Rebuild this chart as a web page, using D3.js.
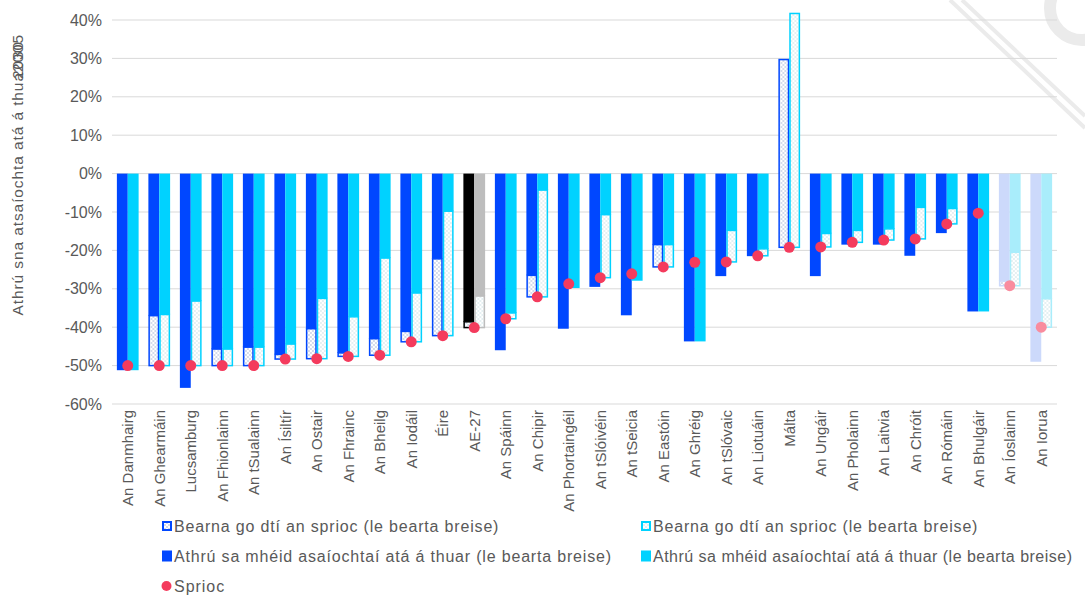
<!DOCTYPE html>
<html>
<head>
<meta charset="utf-8">
<script src="https://cdn.jsdelivr.net/npm/d3@7"></script>
<style>
    body { margin: 0; background: #fff; }
    svg { display: block; font-family: "Liberation Sans", Arial, sans-serif; }
</style>
</head>
<body>
<svg id="chart" width="1085" height="596"></svg>
<script>
const countries = ['An Danmhairg', 'An Ghearmáin', 'Lucsamburg', 'An Fhionlainn', 'An tSualainn', 'An Ísiltír',
    'An Ostair', 'An Fhrainc', 'An Bheilg', 'An Iodáil', 'Éire', 'AE-27', 'An Spáinn', 'An Chipir',
    'An Phortaingéil', 'An tSlóivéin', 'An tSeicia', 'An Eastóin', 'An Ghréig', 'An tSlóvaic', 'An Liotuáin',
    'Málta', 'An Ungáir', 'An Pholainn', 'An Laitvia', 'An Chróit', 'An Rómáin', 'An Bhulgáir', 'An Íoslainn', 'An Iorua'];

// projected change, first and second scenario (%)
const projectedA = [-51.2, -37, -55.8, -45.7, -45.2, -47.1, -40.4, -46.7, -43, -41.1, -22.2, -38.6, -46, -26.5,
    -40.4, -29.5, -36.9, -18.5, -43.7, -26.7, -21.5, 29.7, -26.7, -18.5, -18.5, -21.4, -15.5, -35.9, -28, -49];
const projectedB = [-51.2, -36.7, -33.2, -45.7, -45.2, -44.4, -32.5, -37.3, -22, -31.1, -9.8, -31.9, -36.3, -4.3,
    -29.8, -10.7, -27.9, -18.5, -43.7, -14.8, -19.6, 41.7, -15.6, -14.8, -14.4, -8.8, -9.1, -35.9, -20.5, -32.6];
const targets = [-50, -50, -50, -50, -50, -48.3, -48.2, -47.6, -47.3, -43.8, -42.2, -40.1, -37.8, -32.1,
    -28.7, -27.1, -26.1, -24.3, -23.1, -23, -21.4, -19.2, -19.1, -17.9, -17.3, -17, -13.1, -10.3, -29.2, -40];

const yTicks = [40, 30, 20, 10, 0, -10, -20, -30, -40, -50, -60];

const legendLabels = [
    'Bearna go dtí an sprioc (le bearta breise)',
    'Bearna go dtí an sprioc (le bearta breise)',
    'Athrú sa mhéid asaíochtaí atá á thuar (le bearta breise)',
    'Athrú sa mhéid asaíochtaí atá á thuar (le bearta breise)',
    'Sprioc'
];

const COLORS = {
    a: '#0047ff', b: '#00d2ff', target: '#f43b5d',
    euA: '#000000', euB: '#bdbdbd',
    fadeA: '#ccd9fb', fadeB: '#a9edfb', fadeTarget: '#f98c9e'
};

/**
 * Colour of a bar for a country
 */
function barColor(name, key) {
    if (name === 'AE-27') return key === 'a' ? COLORS.euA : COLORS.euB;
    if (name === 'An Íoslainn' || name === 'An Iorua') return key === 'a' ? COLORS.fadeA : COLORS.fadeB;
    return COLORS[key];
}

function targetColor(name) {
    return (name === 'An Íoslainn' || name === 'An Iorua') ? COLORS.fadeTarget : COLORS.target;
}

const svg = d3.select('#chart');

const x = d3.scaleBand().domain(countries).range([112, 1057]).paddingInner(0.31).paddingOuter(0.155);
const x1 = d3.scaleBand().domain(['a', 'b']).range([0, x.bandwidth()]);
const y = d3.scaleLinear().domain([-60, 40]).range([404, 20]);

// watermark
const wm = svg.append('g').attr('fill', 'none').attr('stroke', '#ebebeb');
wm.append('line').attr('x1', 950).attr('y1', 0).attr('x2', 1085).attr('y2', 128).attr('stroke-width', 4);
wm.append('line').attr('x1', 962).attr('y1', 0).attr('x2', 1085).attr('y2', 116).attr('stroke-width', 4);
wm.append('circle').attr('cx', 1082).attr('cy', 8).attr('r', 32).attr('stroke-width', 12);

// dotted patterns for the gap bars
const defs = svg.append('defs');
function dotPattern(id, dot) {
    const p = defs.append('pattern').attr('id', id).attr('patternUnits', 'userSpaceOnUse')
        .attr('width', 4).attr('height', 4);
    p.append('rect').attr('width', 4).attr('height', 4).attr('fill', '#fff');
    p.append('circle').attr('cx', 1).attr('cy', 1).attr('r', 0.7).attr('fill', dot);
    p.append('circle').attr('cx', 3).attr('cy', 3).attr('r', 0.7).attr('fill', dot);
}
dotPattern('dotsA', '#8a9bc9');
dotPattern('dotsB', '#b9d6dd');

// grid + y axis
svg.append('g')
    .selectAll('line')
    .data(yTicks)
    .join('line')
    .attr('x1', 112).attr('x2', 1057)
    .attr('y1', d => y(d)).attr('y2', d => y(d))
    .attr('stroke', '#d9d9d9').attr('stroke-width', 1);

const yAxis = svg.append('g')
    .attr('transform', 'translate(112,0)')
    .call(d3.axisLeft(y).tickValues(yTicks).tickSize(0).tickPadding(10).tickFormat(d => d + '%'));
yAxis.select('.domain').remove();
yAxis.selectAll('text').attr('font-size', 16).attr('fill', '#595959').attr('font-family', null);

// y title (two overlapping labels, as in the source)
const yTitle = svg.append('g').attr('transform', 'translate(23,180) rotate(-90)')
    .attr('font-size', 15.5).attr('letter-spacing', 0.9).attr('fill', '#595959')
    .attr('text-anchor', 'end');
yTitle.append('text').attr('x', 146).text('Athrú sna atsaíochta atá á thua2005');
yTitle.append('text').attr('x', 139).text('2030');

// bars
const rows = countries.map((name, i) => ({
    name,
    values: [{key: 'a', v: projectedA[i]}, {key: 'b', v: projectedB[i]}],
    target: targets[i]
}));

const groups = svg.append('g')
    .selectAll('g')
    .data(rows)
    .join('g')
    .attr('transform', d => `translate(${x(d.name)},0)`);

groups.selectAll('rect.solid')
    .data(d => d.values.map(v => ({...v, name: d.name})))
    .join('rect')
    .attr('class', 'solid')
    .attr('x', d => x1(d.key))
    .attr('width', x1.bandwidth())
    .attr('y', y(0))
    .attr('height', d => y(Math.min(d.v, 0)) - y(0))
    .attr('fill', d => barColor(d.name, d.key));

groups.selectAll('rect.gap')
    .data(d => d.values.filter(v => v.v > d.target).map(v => ({...v, name: d.name, t: d.target})))
    .join('rect')
    .attr('class', 'gap')
    .attr('x', d => x1(d.key) + 0.75)
    .attr('width', x1.bandwidth() - 1.5)
    .attr('y', d => y(d.v))
    .attr('height', d => y(d.t) - y(d.v))
    .attr('fill', d => d.key === 'a' ? 'url(#dotsA)' : 'url(#dotsB)')
    .attr('stroke', d => barColor(d.name, d.key))
    .attr('stroke-width', 1.5);

groups.append('circle')
    .attr('cx', x.bandwidth() / 2)
    .attr('cy', d => y(d.target))
    .attr('r', 5.5)
    .attr('fill', d => targetColor(d.name));

// x labels
const xAxis = svg.append('g')
    .attr('transform', `translate(0,${y(-60)})`)
    .call(d3.axisBottom(x).tickSize(0).tickPadding(0));
xAxis.select('.domain').remove();
xAxis.selectAll('text')
    .attr('font-family', null)
    .attr('font-size', 15)
    .attr('fill', '#595959')
    .attr('transform', 'rotate(-90)')
    .attr('text-anchor', 'end')
    .attr('dy', '0.35em')
    .attr('x', -6)
    .attr('y', 0);

// legend
const legendPos = [[162, 526], [641, 526], [162, 556], [641, 556], [162, 586]];
const legendMarks = ['gapA', 'gapB', 'a', 'b', 'target'];
const legend = svg.append('g').attr('font-size', 16).attr('fill', '#595959');
legendLabels.forEach((label, i) => {
    const [lx, ly] = legendPos[i];
    const g = legend.append('g').attr('transform', `translate(${lx},${ly})`);
    const m = legendMarks[i];
    if (m === 'target') {
        g.append('circle').attr('cx', 4.5).attr('cy', 0).attr('r', 5).attr('fill', COLORS.target);
    } else if (m === 'gapA' || m === 'gapB') {
        g.append('rect').attr('x', 1).attr('y', -4).attr('width', 8).attr('height', 8)
            .attr('fill', m === 'gapA' ? 'url(#dotsA)' : 'url(#dotsB)')
            .attr('stroke', m === 'gapA' ? COLORS.a : COLORS.b).attr('stroke-width', 2);
    } else {
        g.append('rect').attr('x', 0).attr('y', -5.5).attr('width', 10).attr('height', 11).attr('fill', COLORS[m]);
    }
    // spread the text like the source; the right column would run past the edge, so squeeze it
    const t = g.append('text').attr('x', 12).attr('dy', '0.35em').text(label);
    const len = t.node().getComputedTextLength() + label.length * 0.8;
    t.attr('textLength', Math.min(len, 1072 - lx - 12)).attr('lengthAdjust', 'spacing');
});
</script>
</body>
</html>
